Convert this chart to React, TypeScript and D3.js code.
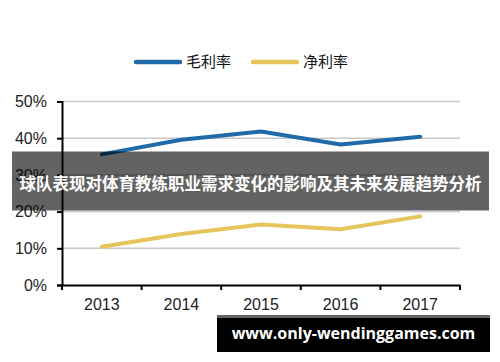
import React, { useEffect, useRef } from "react";
import * as d3 from "d3";

// 年份 & 两个系列（百分比）
const years = ["2013", "2014", "2015", "2016", "2017"];
const grossMargin = [35.6, 39.6, 41.8, 38.3, 40.4];
const netMargin = [10.4, 13.9, 16.5, 15.2, 18.7];
const yTicks = [0, 10, 20, 30, 40, 50];

const seriesNames = ["毛利率", "净利率"];
const seriesColors = ["#1f6aa8", "#e5c55c"];

const W = 500;
const H = 362;

const App: React.FC = () => {
  const svgRef = useRef<SVGSVGElement>(null);

  useEffect(() => {
    if (!svgRef.current) return;
    const svg = d3.select(svgRef.current);
    svg.selectAll("*").remove();

    const left = 62;
    const right = 460;
    const top = 101.5;
    const bottom = 285;

    const x = d3.scaleBand<string>().domain(years).range([left, right]);
    const y = d3.scaleLinear().domain([0, 50]).range([bottom, top]);

    // 网格线
    svg
      .append("g")
      .selectAll("line")
      .data(yTicks.filter((t) => t > 0))
      .enter()
      .append("line")
      .attr("x1", left)
      .attr("x2", right)
      .attr("y1", (d) => y(d))
      .attr("y2", (d) => y(d))
      .attr("stroke", "#c8c8c8")
      .attr("stroke-width", 1.5);

    // Y 轴
    const yAxis = svg
      .append("g")
      .attr("transform", `translate(${left},0)`)
      .call(
        d3
          .axisLeft(y)
          .tickValues(yTicks)
          .tickSize(5)
          .tickPadding(10)
          .tickFormat((d) => `${d}%`)
      );
    yAxis.select(".domain").attr("stroke", "#000").attr("stroke-width", 2);
    yAxis.selectAll(".tick line").attr("stroke", "#000").attr("stroke-width", 2);
    yAxis
      .selectAll("text")
      .attr("fill", "#222")
      .style("font-family", "Liberation Sans, Arial, sans-serif")
      .style("font-size", "16px");

    // X 轴
    const xAxis = svg
      .append("g")
      .attr("transform", `translate(0,${bottom})`)
      .call(d3.axisBottom(x).tickSize(0).tickPadding(14));
    xAxis.select(".domain").attr("stroke", "#000").attr("stroke-width", 2);
    xAxis
      .selectAll("text")
      .attr("fill", "#222")
      .style("font-family", "Liberation Sans, Arial, sans-serif")
      .style("font-size", "16px");
    // 分类边界刻度
    xAxis
      .selectAll(".bound")
      .data(years.concat([""]))
      .enter()
      .append("line")
      .attr("x1", (_, i) => left + i * x.bandwidth())
      .attr("x2", (_, i) => left + i * x.bandwidth())
      .attr("y1", 0)
      .attr("y2", 5)
      .attr("stroke", "#000")
      .attr("stroke-width", 2);

    // 折线
    const line = d3
      .line<number>()
      .x((_, i) => (x(years[i]) as number) + x.bandwidth() / 2)
      .y((d) => y(d));

    [grossMargin, netMargin].forEach((s, i) => {
      svg
        .append("path")
        .datum(s)
        .attr("d", line)
        .attr("fill", "none")
        .attr("stroke", seriesColors[i])
        .attr("stroke-width", 4)
        .attr("stroke-linecap", "round")
        .attr("stroke-linejoin", "round");
    });

    // 图例
    const legend = svg.append("g").attr("transform", "translate(136,62)");
    const items = legend
      .selectAll(".legend-item")
      .data(seriesNames)
      .enter()
      .append("g")
      .attr("transform", (_, i) => `translate(${i * 117},0)`);
    items
      .append("line")
      .attr("x1", 0)
      .attr("x2", 44)
      .attr("stroke", (_, i) => seriesColors[i])
      .attr("stroke-width", 4.5)
      .attr("stroke-linecap", "round");
    items
      .append("text")
      .attr("x", 50)
      .attr("dy", "0.35em")
      .style("font-family", "Noto Sans CJK SC, sans-serif")
      .style("font-size", "15px")
      .attr("fill", "#111")
      .text((d) => d);

    // 标题横幅
    svg
      .append("rect")
      .attr("x", 12)
      .attr("y", 151.5)
      .attr("width", 477)
      .attr("height", 59)
      .attr("fill", "rgba(0,0,0,0.61)");
    svg
      .append("text")
      .attr("x", 250.5)
      .attr("y", 186)
      .attr("text-anchor", "middle")
      .attr("dominant-baseline", "middle")
      .attr("fill", "#fff")
      .style("font-family", "Noto Sans CJK SC, sans-serif")
      .style("font-weight", "bold")
      .style("font-size", "16.5px")
      .text("球队表现对体育教练职业需求变化的影响及其未来发展趋势分析");

    // 水印
    svg
      .append("rect")
      .attr("x", 217)
      .attr("y", 315)
      .attr("width", 273)
      .attr("height", 37)
      .attr("fill", "#000");
    svg
      .append("rect")
      .attr("x", 217)
      .attr("y", 315)
      .attr("width", 273)
      .attr("height", 3)
      .attr("fill", "#666");
    svg
      .append("text")
      .attr("x", 353.5)
      .attr("y", 335)
      .attr("text-anchor", "middle")
      .attr("dominant-baseline", "middle")
      .attr("fill", "#fff")
      .style("font-family", "Open Sans, Noto Sans, sans-serif")
      .style("font-weight", "bold")
      .style("font-size", "16px")
      .text("www.only-wendinggames.com");
  }, []);

  return (
    <svg
      ref={svgRef}
      width={W}
      height={H}
      style={{ position: "absolute", left: 0, top: 0, background: "#fff" }}
    />
  );
};

export default App;
